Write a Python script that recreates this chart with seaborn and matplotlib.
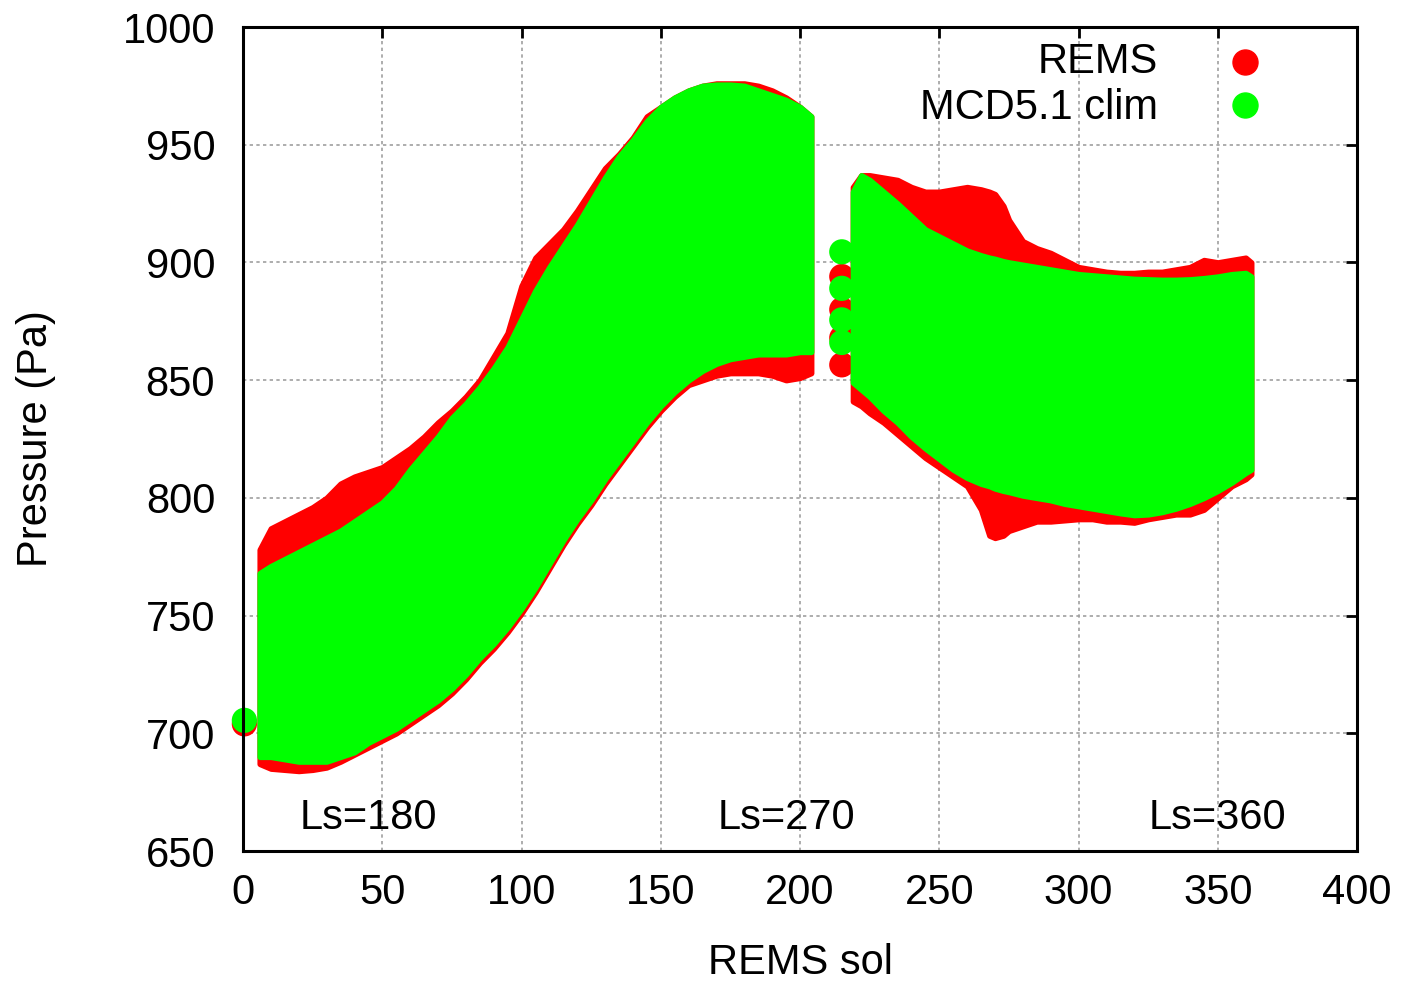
import numpy as np
import pandas as pd
import matplotlib
matplotlib.use("Agg")
import matplotlib.pyplot as plt
import seaborn as sns

# ---------------- data ----------------
# first observing segment: daily pressure envelope per sol
seg1_sol = [6, 10, 15, 20, 25, 30, 35, 40, 45, 50, 55, 60, 65, 70, 75, 80, 85, 90, 95, 100,
            105, 110, 115, 120, 125, 130, 135, 140, 145, 150, 155, 160, 165, 170, 175, 180,
            185, 190, 195, 200, 204]
rems1_high = [778, 787, 790, 793, 796, 800, 806, 809, 811, 813, 817, 821, 826, 832, 837, 843,
              850, 860, 870, 890, 902, 908, 914, 922, 931, 940, 946, 953, 962, 966, 970, 973,
              975, 976, 976, 976, 975, 973, 970, 966, 962]
rems1_low = [687, 685, 684.5, 684, 684.5, 685.5, 688, 691, 694, 697, 700, 704, 708, 712, 717,
             723, 730, 736, 743, 751, 760, 770, 780, 789, 797, 806, 814, 822, 830, 837, 843,
             848, 850, 852, 853, 853, 853, 852, 850, 851, 853]
mcd1_high = [768, 771, 774, 777, 780, 783, 786, 790, 794, 798, 804, 812, 819, 826, 834, 840,
             847, 855, 864, 876, 888, 898, 907, 916, 926, 936, 945, 952, 960, 966, 970, 973,
             975, 975.5, 975.5, 975, 973, 971, 969, 966, 962]
mcd1_low = [690, 690, 689, 688, 688, 688, 690, 692, 696, 699, 702, 706, 710, 714, 719, 725,
            732, 738, 745, 753, 762, 772, 782, 791, 799, 808, 816, 824, 832, 839, 845, 850,
            854, 857, 859, 860, 861, 861, 861, 862, 862]

# second observing segment
seg2_sol = [219, 222, 225, 230, 235, 240, 245, 250, 255, 260, 265, 268, 270, 273, 275, 280,
            285, 290, 295, 300, 305, 310, 315, 320, 325, 330, 335, 340, 345, 350, 355, 360, 362]
rems2_high = [932, 937, 937, 936, 935, 932, 930, 930, 931, 932, 931, 930, 929, 924, 918, 909,
              906, 904, 901, 898, 897, 896, 895.5, 895.5, 896, 896, 897, 898, 901, 900, 901,
              902, 900]
rems2_low = [841, 839, 836, 832, 827, 822, 817, 813, 809, 805, 795, 784, 783, 784, 786, 788,
             790, 790, 790.5, 791, 791, 790, 790, 789.5, 791, 792, 793, 793, 795, 800, 805,
             808, 810]
mcd2_high = [930, 937, 935, 930, 925, 919.5, 914, 911, 908, 905, 903, 902, 901.5, 900.5, 900,
             899, 898, 897, 896, 895, 894.5, 894, 893.5, 893, 892.8, 892.6, 892.6, 892.8,
             893.3, 894, 895, 895.5, 894]
mcd2_low = [849, 846, 843, 837, 832, 826, 821, 816.5, 812, 808.5, 806, 805, 804, 803, 802.5,
            801, 800, 799, 797.5, 796.5, 795.5, 794.5, 793.5, 792.7, 793, 794, 795.5, 797.5,
            800, 803, 806.5, 810.6, 812]

# isolated single observations
rems_iso_sol = [0.5, 215, 215, 215, 215]
rems_iso_p = [704, 894, 880, 868, 856.5]
mcd_iso_sol = [0.5, 215, 215, 215, 215]
mcd_iso_p = [705.5, 904.5, 889, 875.6, 866]

series_names = ["REMS", "MCD5.1 clim"]
ls_labels = ["Ls=180", "Ls=270", "Ls=360"]
ls_sol = [45, 195, 350]

x_ticks = [0, 50, 100, 150, 200, 250, 300, 350, 400]
y_ticks = [650, 700, 750, 800, 850, 900, 950, 1000]

# ---------------- plotting ----------------
sns.set_theme(style="white")
plt.rcParams["font.family"] = ["Liberation Sans", "DejaVu Sans"]
plt.rcParams["text.color"] = "black"
plt.rcParams["axes.labelcolor"] = "black"
plt.rcParams["xtick.color"] = "black"
plt.rcParams["ytick.color"] = "black"

RED = "#ff0000"
GREEN = "#00ff00"
FS = 30

fig = plt.figure(figsize=(14.07, 9.82), dpi=100)
ax = fig.add_axes([0.1727, 0.1334, 0.7918, 0.8391])

def band(sols, lo, hi, color, z):
    ax.fill_between(sols, lo, hi, color=color, edgecolor=color, linewidth=4,
                    joinstyle="round", zorder=z)

band(seg1_sol, rems1_low, rems1_high, RED, 2)
band(seg2_sol, rems2_low, rems2_high, RED, 2)
sns.scatterplot(x=rems_iso_sol, y=rems_iso_p, color=RED, s=330, edgecolor="none",
                ax=ax, zorder=3, legend=False, clip_on=False)
band(seg1_sol, mcd1_low, mcd1_high, GREEN, 4)
band(seg2_sol, mcd2_low, mcd2_high, GREEN, 4)
sns.scatterplot(x=mcd_iso_sol, y=mcd_iso_p, color=GREEN, s=330, edgecolor="none",
                ax=ax, zorder=5, legend=False, clip_on=False)

ax.set_xlim(0, 400)
ax.set_ylim(650, 1000)
ax.set_xticks(x_ticks)
ax.set_yticks(y_ticks)
ax.set_axisbelow(True)
ax.grid(True, color="#a0a0a0", linestyle=(0, (2, 2)), linewidth=1.2)

for sp in ax.spines.values():
    sp.set_visible(True)
    sp.set_color("black")
    sp.set_linewidth(2.2)
    sp.set_zorder(10)

ax.tick_params(axis="both", direction="in", length=8, width=2, top=True, right=True,
               labelsize=FS, colors="black")
ax.tick_params(axis="x", pad=16)
ax.tick_params(axis="y", pad=20)

ax.set_xlabel("REMS sol", fontsize=FS, color="black")
ax.set_ylabel("Pressure (Pa)", fontsize=FS, color="black")
ax.xaxis.set_label_coords(0.5, -0.112)
ax.yaxis.set_label_coords(-0.168, 0.5)

for lab, s in zip(ls_labels, ls_sol):
    ax.text(s, 664, lab, fontsize=FS, ha="center", va="center", zorder=11, color="black")

# legend (gnuplot style: right-aligned text, marker to the right)
leg_y = [0.9575, 0.9053]
for name, col, yy in zip(series_names, [RED, GREEN], [0.9575, 0.9015]):
    ax.text(0.8214, yy, name, transform=ax.transAxes, fontsize=FS, ha="right",
            va="center", zorder=11, color="black")
for col, yy in zip([RED, GREEN], leg_y):
    ax.plot([0.8995], [yy], marker="o", markersize=18, color=col, linestyle="none",
            transform=ax.transAxes, zorder=11)

fig.savefig("out.png", dpi=100, facecolor="white")
